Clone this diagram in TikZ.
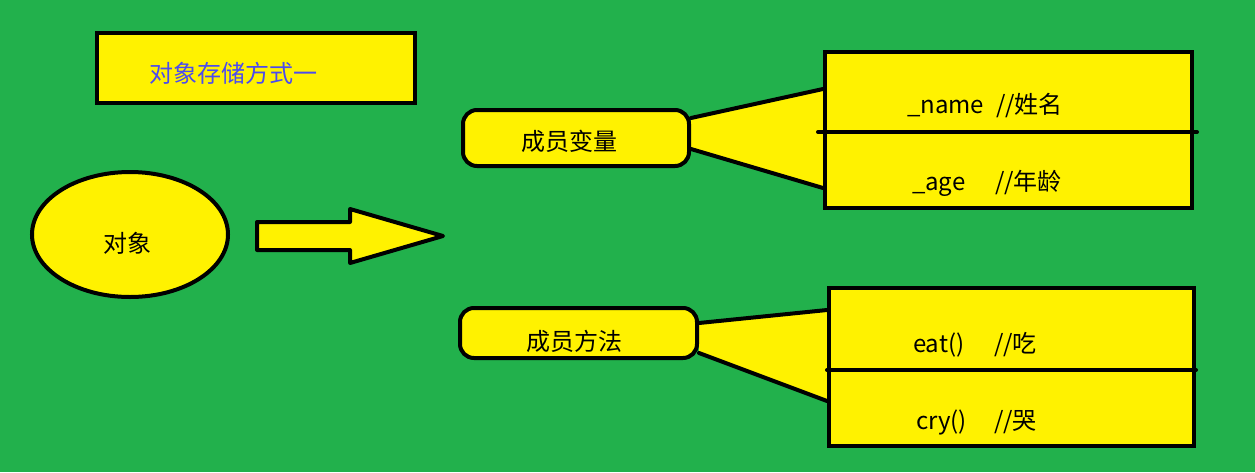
\documentclass[tikz,border=0pt]{standalone}
\usepackage{fontspec}
\setmainfont{Noto Sans CJK SC}
\usetikzlibrary{shapes.geometric,backgrounds}
\definecolor{bggreen}{HTML}{22B14C}
\definecolor{paintyellow}{HTML}{FFF200}
\definecolor{titleblue}{HTML}{4B4BF0}
\begin{document}
\begin{tikzpicture}[x=1pt,y=-1pt,line width=4pt,
  yellowbox/.style={draw=black,fill=paintyellow,line width=4pt,inner sep=0pt},
  pill/.style={yellowbox,rounded corners=14pt},
  oval/.style={yellowbox,ellipse},
  txt/.style={inner sep=0pt,font=\fontsize{24}{29}\selectfont},
  link/.style={draw=black,line width=4pt,line cap=round},
  wedge/.style={fill=paintyellow}]
\begin{scope}[on background layer]
\fill[bggreen] (0,0) rectangle (1255,472);
\end{scope}
\useasboundingbox (0,0) rectangle (1255,472);

% title box
\node[yellowbox,minimum width=318pt,minimum height=70pt] (title) at (256,68) {};
\node[txt,text=titleblue,anchor=base] (titletext) at (233,82) {对象存储方式一};

% object ellipse
\node[oval,minimum width=196pt,minimum height=125pt] (obj) at (130,234.5) {};
\node[txt,anchor=base] (objtext) at (127,252) {对象};

% big arrow
\filldraw[draw=black,fill=paintyellow,line width=4pt,line join=round]
  (257,222) -- (350,222) -- (350,209) -- (443,236) -- (350,263) -- (350,250) -- (257,250) -- cycle;

% pills
\node[pill,minimum width=226pt,minimum height=56pt] (mv) at (576,138) {};
\node[txt,anchor=base] (mvtext) at (569,150) {成员变量};
\node[pill,minimum width=237pt,minimum height=50pt] (mm) at (578.5,333) {};
\node[txt,anchor=base] (mmtext) at (574,350) {成员方法};

% member boxes
\node[yellowbox,minimum width=367pt,minimum height=156pt] (vb) at (1008.5,130) {};
\node[yellowbox,minimum width=365pt,minimum height=158pt] (mb) at (1011.5,367) {};

% dividers
\draw[link,shorten <=-5pt,shorten >=-3pt] (vb.west |- 0,132) -- (vb.east |- 0,132);
\draw[link] (mb.west |- 0,370) -- (mb.east |- 0,370);

% box texts
\node[txt,anchor=base west] (t1) at (905,113) {\makebox[89pt][l]{\_name}//姓名};
\node[txt,anchor=base west] (t2) at (910,190) {\makebox[83pt][l]{\_age}//年龄};
\node[txt,anchor=base west] (t3) at (911,352) {\makebox[81pt][l]{eat()}//吃};
\node[txt,anchor=base west] (t4) at (914,429) {\makebox[78pt][l]{cry()}//哭};

% wedges connecting pills and boxes
\begin{scope}[on background layer]
\fill[wedge] (mv.east |- 0,118) -- (vb.west |- 0,89) -- (vb.west |- 0,188) -- (mv.east |- 0,149) -- cycle;
\draw[link] (mv.east |- 0,118) -- (vb.west |- 0,89);
\draw[link] (mv.east |- 0,149) -- (vb.west |- 0,188);
\fill[wedge] (mm.east |- 0,323) -- (mb.west |- 0,310) -- (mb.west |- 0,401) -- (mm.east |- 0,353) -- cycle;
\draw[link] (mm.east |- 0,323) -- (mb.west |- 0,310);
\draw[link] (mm.east |- 0,353) -- (mb.west |- 0,401);
\end{scope}
\end{tikzpicture}
\end{document}
